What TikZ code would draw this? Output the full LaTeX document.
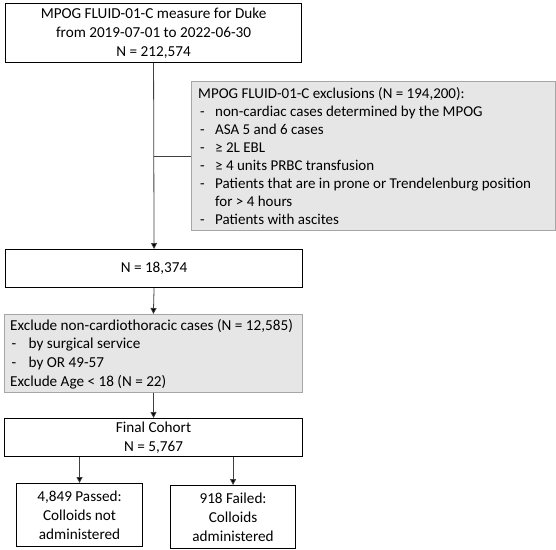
\documentclass[tikz,border=0pt]{standalone}
\usepackage{fontspec}
\setmainfont{Carlito}
\usetikzlibrary{arrows.meta,positioning}
\definecolor{boxgrey}{HTML}{E7E6E6}
\definecolor{greyedge}{HTML}{A6A6A6}
\definecolor{linegrey}{HTML}{404040}
\tikzset{
  wbox/.style={draw=black, line width=1.1pt, fill=white, anchor=north west, inner sep=0pt, align=center},
  gbox/.style={draw=greyedge, line width=0.8pt, fill=boxgrey, anchor=north west, inner sep=0pt},
  arr/.style={draw=linegrey, line width=0.8pt, -{Triangle[width=6pt,length=6pt,fill=black]}},
  conn/.style={draw=linegrey, line width=0.8pt},
  txt/.style={font=\fontsize{15.2}{19}\selectfont},
  ltxt/.style={font=\fontsize{15}{17.9}\selectfont},
  ltxtb/.style={font=\fontsize{15.2}{18.6}\selectfont}
}
\begin{document}
\begin{tikzpicture}[x=1pt,y=-1pt]
\useasboundingbox (0,0) rectangle (556,549);
% boxes
\node[wbox, minimum width=296pt, minimum height=59pt, txt] (b1) at (5,3)
  {MPOG FLUID-01-C measure for Duke\\from 2019-07-01 to 2022-06-30\\N = 212,574};
\node[gbox, minimum width=364pt, minimum height=149pt] (ex) at (191,81) {};
\node[anchor=north west, inner sep=0pt, ltxt, align=left] (extxt) at (198,86) {%
\begin{tabular}{@{}p{17pt}@{}l@{}}
\multicolumn{2}{@{}l@{}}{MPOG FLUID-01-C exclusions (N = 194,200):}\\
\hspace{2pt}- & non-cardiac cases determined by the MPOG\\
\hspace{2pt}- & ASA 5 and 6 cases\\
\hspace{2pt}- & ≥ 2L EBL\\
\hspace{2pt}- & ≥ 4 units PRBC transfusion\\
\hspace{2pt}- & Patients that are in prone or Trendelenburg position\\
  & for > 4 hours\\
\hspace{2pt}- & Patients with ascites
\end{tabular}};
\node[wbox, minimum width=297pt, minimum height=38pt, txt] (b2) at (5,249) {N = 18,374};
\node[gbox, minimum width=298pt, minimum height=78pt] (b3) at (4,314) {};
\node[anchor=north west, inner sep=0pt, ltxtb, align=left] (b3txt) at (10,317) {%
\begin{tabular}{@{}p{18.5pt}@{}l@{}}
\multicolumn{2}{@{}l@{}}{Exclude non-cardiothoracic cases (N = 12,585)}\\
\hspace{1.5pt}- & by surgical service\\
\hspace{1.5pt}- & by OR 49-57\\
\multicolumn{2}{@{}l@{}}{Exclude Age < 18 (N = 22)}
\end{tabular}};
\node[wbox, minimum width=298pt, minimum height=38pt, txt] (b4) at (4,418) {Final Cohort\\N = 5,767};
\node[wbox, minimum width=126pt, minimum height=63pt, txt] (b5) at (16,483) {4,849 Passed:\\Colloids not\\administered};
\node[wbox, minimum width=125pt, minimum height=63pt, txt] (b6) at (170,485) {918 Failed:\\Colloids\\administered};
% connectors
\coordinate (j) at (b1.south |- ex.west);
\draw[arr] (b1.south) -- (b2.north);
\draw[conn] (j) -- (ex.west);
\draw[arr] (b2.south) -- (b3.north);
\draw[arr] (b3.south) -- (b4.north);
\draw[arr] (b4.south -| b5.north) -- (b5.north);
\draw[arr] (b4.south -| b6.north) -- (b6.north);
\end{tikzpicture}
\end{document}
